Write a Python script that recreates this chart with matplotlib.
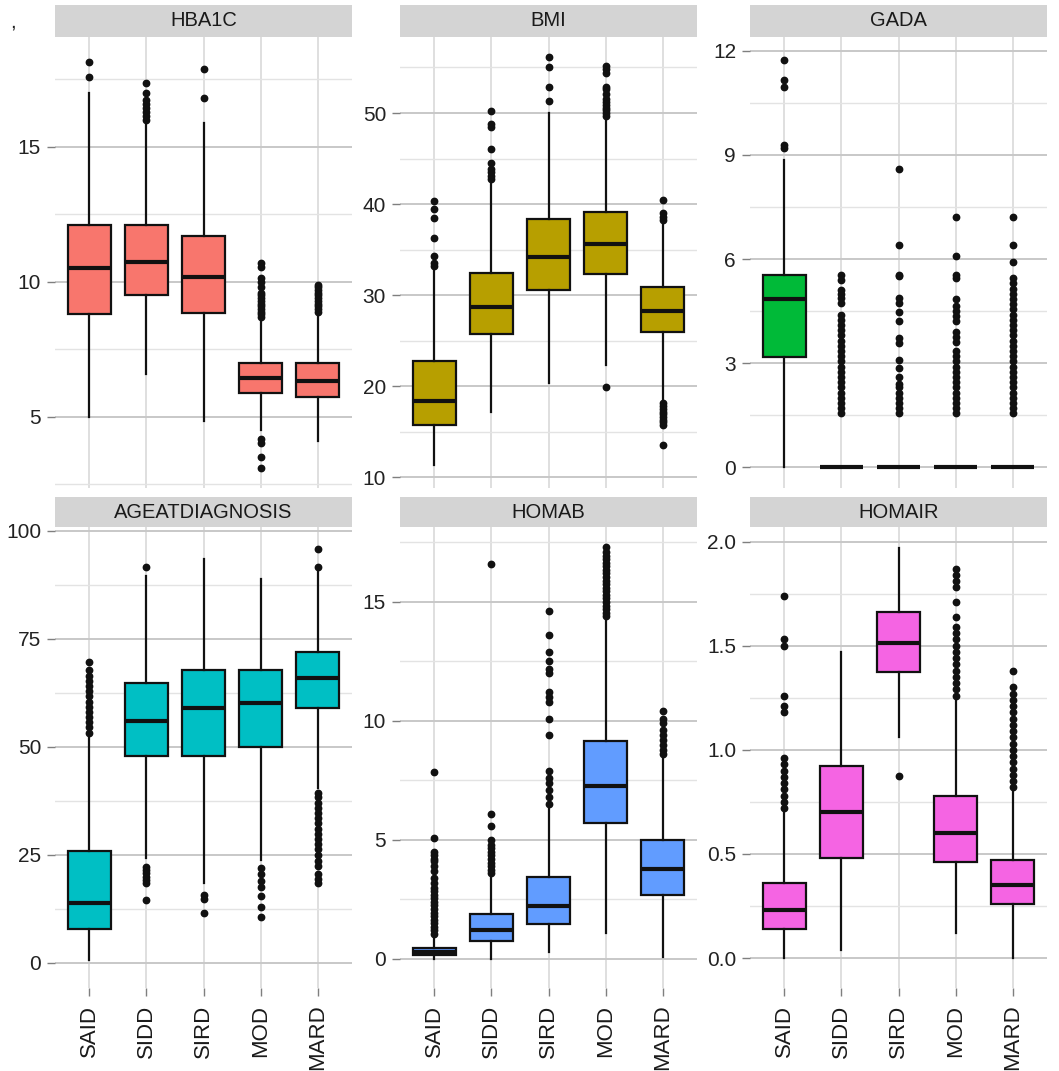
import matplotlib

matplotlib.use("Agg")
import matplotlib.pyplot as plt
from matplotlib.ticker import MultipleLocator

plt.rcParams["font.family"] = ["Liberation Sans", "DejaVu Sans"]

GROUPS = ["SAID", "SIDD", "SIRD", "MOD", "MARD"]
PANELS = ["HBA1C", "BMI", "GADA", "AGEATDIAGNOSIS", "HOMAB", "HOMAIR"]
COLOURS = ["#F8766D", "#B79F00", "#00BA38", "#00BFC4", "#619CFF", "#F564E3"]

# box stats per group: whisker low, q1, median, q3, whisker high
hba1c_box = [
    [5.0, 8.8, 10.5, 12.1, 17.0],
    [6.6, 9.5, 10.75, 12.1, 15.8],
    [4.85, 8.85, 10.2, 11.7, 15.9],
    [4.5, 5.9, 6.45, 7.0, 8.6],
    [4.1, 5.75, 6.35, 7.0, 8.8],
]
hba1c_out = [
    [17.6, 18.15],
    [16.0, 16.15, 16.3, 16.45, 16.6, 16.75, 17.0, 17.35],
    [16.8, 17.9],
    [3.1, 3.5, 4.05, 4.2, 8.7, 8.8, 8.9, 9.0, 9.1, 9.2, 9.3, 9.4, 9.5, 9.6, 9.8, 10.0, 10.15, 10.55, 10.7],
    [8.9, 9.0, 9.1, 9.2, 9.3, 9.4, 9.5, 9.6, 9.7, 9.8, 9.9],
]

bmi_box = [
    [11.3, 15.7, 18.35, 22.7, 32.8],
    [17.1, 25.7, 28.7, 32.4, 42.3],
    [20.3, 30.5, 34.2, 38.3, 50.0],
    [22.3, 32.3, 35.6, 39.1, 49.4],
    [18.5, 25.9, 28.3, 30.9, 37.9],
]
bmi_out = [
    [33.2, 33.5, 34.3, 36.3, 38.5, 39.4, 40.3],
    [42.7, 43.1, 43.5, 43.9, 44.5, 46.0, 48.5, 48.8, 50.2],
    [51.3, 52.9, 55.0, 56.2],
    [19.9, 49.7, 50.0, 50.3, 50.6, 50.9, 51.2, 51.5, 52.1, 52.6, 52.9, 54.4, 54.8, 55.2],
    [13.5, 15.7, 16.0, 16.3, 16.6, 16.9, 17.2, 17.5, 17.8, 18.1, 38.2, 38.6, 39.0, 40.4],
]

gada_box = [
    [0.0, 3.17, 4.84, 5.54, 8.85],
    [0.0, 0.0, 0.0, 0.0, 0.0],
    [0.0, 0.0, 0.0, 0.0, 0.0],
    [0.0, 0.0, 0.0, 0.0, 0.0],
    [0.0, 0.0, 0.0, 0.0, 0.0],
]
gada_out = [
    [9.2, 9.3, 10.95, 11.15, 11.75],
    [1.55, 1.7, 1.85, 2.0, 2.15, 2.3, 2.45, 2.6, 2.75, 2.9, 3.05, 3.2, 3.35, 3.5, 3.65, 3.8,
     3.95, 4.1, 4.25, 4.4, 4.72, 4.87, 5.0, 5.1, 5.4, 5.55],
    [1.55, 1.7, 1.85, 2.0, 2.15, 2.3, 2.4, 2.6, 2.85, 3.08, 3.57, 3.71, 4.21, 4.48, 4.72, 4.87,
     5.5, 5.55, 6.4, 8.6],
    [1.55, 1.7, 1.85, 2.0, 2.15, 2.3, 2.45, 2.6, 2.75, 2.9, 3.05, 3.2, 3.35, 3.6, 3.75, 3.9,
     4.2, 4.35, 4.5, 4.65, 4.85, 5.45, 5.55, 6.1, 7.2],
    [1.55, 1.7, 1.85, 2.0, 2.15, 2.3, 2.45, 2.6, 2.75, 2.9, 3.05, 3.2, 3.35, 3.5, 3.65, 3.8,
     3.95, 4.1, 4.25, 4.4, 4.55, 4.7, 4.85, 5.0, 5.15, 5.3, 5.45, 5.9, 6.4, 7.2],
]

age_box = [
    [0.7, 7.9, 13.9, 25.9, 52.5],
    [24.3, 47.9, 56.0, 64.8, 89.6],
    [18.5, 47.9, 59.0, 67.8, 93.5],
    [23.8, 50.0, 60.2, 67.8, 88.9],
    [40.5, 59.0, 65.9, 72.0, 90.8],
]
age_out = [
    [53.3, 54.5, 55.7, 56.9, 58.1, 59.3, 60.5, 61.7, 62.9, 64.1, 65.3, 66.5, 67.8, 69.7],
    [14.6, 18.6, 19.2, 20.0, 20.8, 21.5, 22.2, 91.7],
    [11.6, 14.8, 15.8],
    [10.7, 13.0, 15.5, 17.5, 19.0, 20.5, 22.0],
    [18.5, 19.5, 20.5, 22.5, 23.5, 25.0, 26.3, 27.5, 28.7, 29.9, 31.1, 32.3, 33.5, 34.7, 35.9,
     37.1, 38.3, 39.4, 91.7, 95.8],
]

homab_box = [
    [0.0, 0.15, 0.3, 0.45, 1.0],
    [0.0, 0.76, 1.22, 1.89, 3.5],
    [0.3, 1.47, 2.23, 3.45, 6.4],
    [1.1, 5.7, 7.25, 9.15, 14.3],
    [0.1, 2.7, 3.8, 5.0, 8.4],
]
homab_out = [
    [1.05, 1.2, 1.35, 1.5, 1.65, 1.8, 1.95, 2.1, 2.25, 2.4, 2.55, 2.7, 2.85, 3.0, 3.2, 3.4,
     3.7, 3.9, 4.1, 4.2, 4.35, 4.5, 5.08, 7.86],
    [3.6, 3.75, 3.9, 4.05, 4.2, 4.35, 4.5, 4.65, 4.8, 5.0, 5.6, 6.1, 16.6],
    [6.5, 6.8, 7.1, 7.4, 7.6, 7.9, 9.4, 10.1, 10.8, 11.0, 11.2, 12.0, 12.2, 12.5, 12.9, 13.6, 14.6],
    [14.4, 14.55, 14.7, 14.85, 15.0, 15.15, 15.3, 15.45, 15.6, 15.75, 15.9, 16.05, 16.2,
     16.35, 16.5, 16.65, 16.8, 16.95, 17.1, 17.3],
    [8.6, 8.8, 9.0, 9.2, 9.4, 9.6, 9.9, 10.1, 10.4],
]

homair_box = [
    [0.0, 0.14, 0.23, 0.36, 0.71],
    [0.04, 0.48, 0.70, 0.92, 1.47],
    [1.06, 1.375, 1.515, 1.66, 1.97],
    [0.12, 0.46, 0.60, 0.78, 1.24],
    [0.0, 0.26, 0.35, 0.47, 0.80],
]
homair_out = [
    [0.72, 0.75, 0.78, 0.81, 0.84, 0.87, 0.9, 0.93, 0.96, 1.18, 1.21, 1.26, 1.50, 1.53, 1.74],
    [],
    [0.875],
    [1.26, 1.29, 1.32, 1.35, 1.38, 1.41, 1.44, 1.47, 1.5, 1.53, 1.56, 1.59, 1.64, 1.71,
     1.78, 1.81, 1.84, 1.87],
    [0.82, 0.85, 0.88, 0.91, 0.94, 0.97, 1.0, 1.03, 1.06, 1.09, 1.12, 1.15, 1.18, 1.21,
     1.24, 1.27, 1.30, 1.38],
]

BOXES = [hba1c_box, bmi_box, gada_box, age_box, homab_box, homair_box]
OUTLIERS = [hba1c_out, bmi_out, gada_out, age_out, homab_out, homair_out]

# axis ranges and tick spacing (major, minor)
YLIMS = [(2.37, 19.07), (8.8, 58.35), (-0.6, 12.4), (-5.8, 100.9), (-1.22, 18.15), (-0.144, 2.07)]
YSTEPS = [(5, 2.5), (10, 5), (3, 1.5), (25, 12.5), (5, 2.5), (0.5, 0.25)]
YFORMATS = ["{:.0f}", "{:.0f}", "{:.0f}", "{:.0f}", "{:.0f}", "{:.1f}"]

W, H = 1059, 1071
COL_LEFT = [55, 400, 750]
COL_WIDTH = 297
ROW_PANEL = [(37, 488), (527, 988)]
ROW_STRIP = [(5, 37), (497, 527)]

fig = plt.figure(figsize=(W / 100, H / 100), dpi=100)
fig.patch.set_facecolor("white")


def rect(left, top, width, bottom):
    return [left / W, 1 - bottom / H, width / W, (bottom - top) / H]


for i, name in enumerate(PANELS):
    row, col = divmod(i, 3)
    top, bottom = ROW_PANEL[row]
    ax = fig.add_axes(rect(COL_LEFT[col], top, COL_WIDTH, bottom))
    ax.set_facecolor("white")

    stats = []
    for g, box, out in zip(GROUPS, BOXES[i], OUTLIERS[i]):
        lo, q1, med, q3, hi = box
        stats.append(dict(label=g, whislo=lo, q1=q1, med=med, q3=q3, whishi=hi, fliers=out))
    ax.bxp(
        stats,
        positions=range(1, 6),
        widths=0.75,
        patch_artist=True,
        showcaps=False,
        boxprops=dict(facecolor=COLOURS[i], edgecolor="#111111", linewidth=1.6),
        medianprops=dict(color="#111111", linewidth=3.0),
        whiskerprops=dict(color="#111111", linewidth=1.6),
        flierprops=dict(marker="o", markerfacecolor="#111111", markeredgecolor="#111111",
                        markersize=4.6, linestyle="none"),
        zorder=3,
    )

    ax.set_xlim(0.4, 5.6)
    ax.set_ylim(*YLIMS[i])
    major, minor = YSTEPS[i]
    ax.yaxis.set_major_locator(MultipleLocator(major))
    ax.yaxis.set_minor_locator(MultipleLocator(minor))
    ticks = [t for t in ax.get_yticks() if YLIMS[i][0] <= t <= YLIMS[i][1]]
    ax.set_yticks(ticks)
    ax.set_yticklabels([YFORMATS[i].format(t) for t in ticks])

    ax.grid(axis="y", which="major", color="#C8C8C8", linewidth=1.4, zorder=0)
    ax.grid(axis="y", which="minor", color="#E3E3E3", linewidth=1.0, zorder=0)
    ax.grid(axis="x", which="major", color="#D6D6D6", linewidth=1.1, zorder=0)
    ax.set_axisbelow(True)
    for spine in ax.spines.values():
        spine.set_visible(False)

    ax.tick_params(axis="y", which="major", length=6, width=1, color="#7F7F7F",
                   labelsize=15, labelcolor="#222222", pad=4)
    ax.tick_params(axis="y", which="minor", length=0)
    ax.set_xticks(range(1, 6))
    if row == 1:
        ax.set_xticklabels(GROUPS, rotation=90, fontsize=16, color="#1A1A1A")
        ax.tick_params(axis="x", length=6, width=1, color="#7F7F7F", pad=6)
    else:
        ax.set_xticklabels([])
        ax.tick_params(axis="x", length=0)

    s_top, s_bottom = ROW_STRIP[row]
    strip = fig.add_axes(rect(COL_LEFT[col], s_top, COL_WIDTH, s_bottom))
    strip.set_facecolor("#D4D4D4")
    strip.set_xticks([])
    strip.set_yticks([])
    for spine in strip.spines.values():
        spine.set_visible(False)
    strip.text(0.5, 0.5, name, ha="center", va="center", fontsize=14.5, color="#1A1A1A",
               transform=strip.transAxes)

fig.text(13 / W, 1 - 22 / H, ",", fontsize=15, color="#222222", ha="center", va="center")

fig.savefig("out.png", dpi=100)
